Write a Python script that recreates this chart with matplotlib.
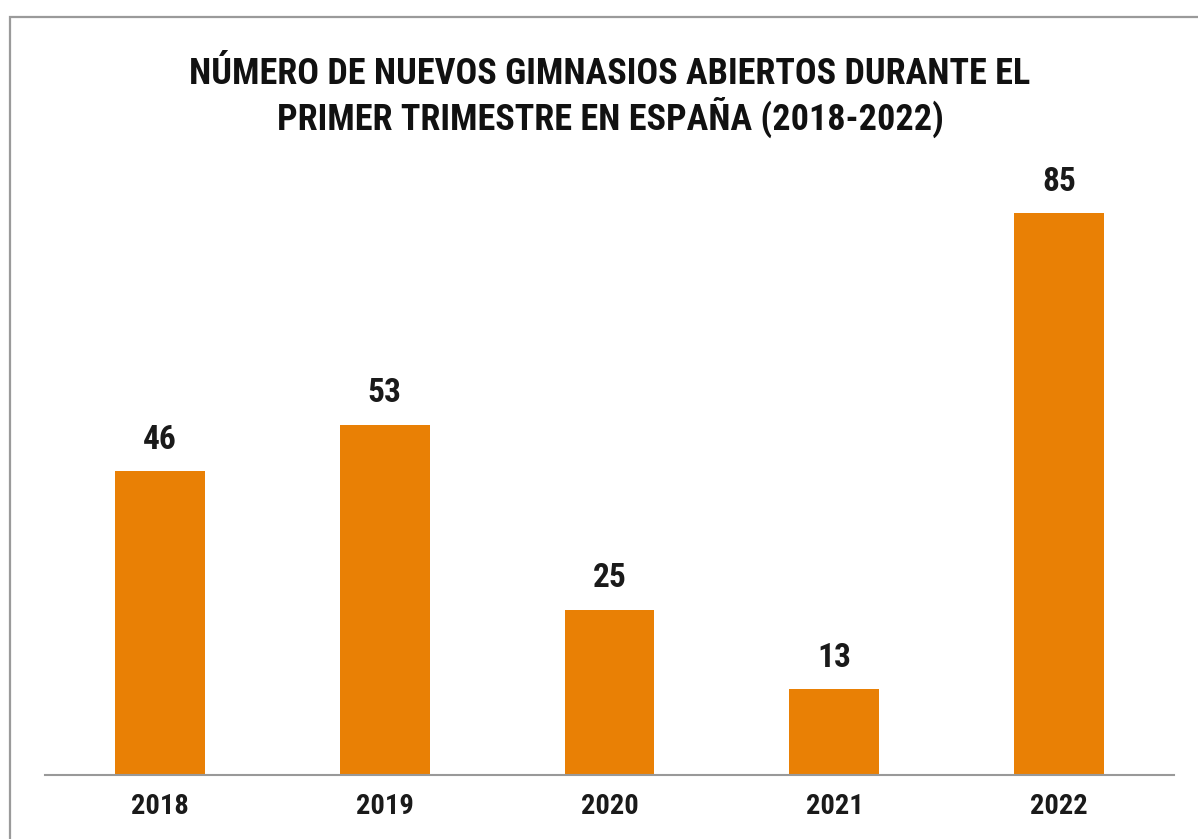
import matplotlib.pyplot as plt
from matplotlib.patches import Rectangle

years = ['2018', '2019', '2020', '2021', '2022']
gyms = [46, 53, 25, 13, 85]

title = ('NÚMERO DE NUEVOS GIMNASIOS ABIERTOS DURANTE EL\n'
         'PRIMER TRIMESTRE EN ESPAÑA (2018-2022)')

plt.rcParams['font.family'] = ['Roboto Condensed', 'Roboto', 'DejaVu Sans']

fig = plt.figure(figsize=(11.98, 8.39), dpi=100)

# outer frame (left and top edges visible, rest cut off)
fig.add_artist(Rectangle((10 / 1198, -0.1), 1.2, 1 - 17 / 839 + 0.1,
                         transform=fig.transFigure, fill=False,
                         edgecolor='#9a9a9a', linewidth=1.6))

ax = fig.add_axes([45 / 1198, 64 / 839, (1174 - 45) / 1198, 595 / 839])
x = range(len(years))
ax.bar(x, gyms, width=0.4, color='#E98005')

for xi, v in zip(x, gyms):
    ax.annotate(str(v), (xi, v), xytext=(0, 11), textcoords='offset points',
                ha='center', va='bottom', fontsize=24, fontweight='bold',
                color='#1a1a1a')

ax.set_xlim(-0.51, 4.51)
ax.set_ylim(0, 90)
ax.set_xticks(list(x))
ax.set_xticklabels(years, fontsize=20.5, fontweight='bold', color='#1a1a1a')
ax.tick_params(axis='x', length=0, pad=13)
ax.set_yticks([])
for s in ['top', 'right', 'left']:
    ax.spines[s].set_visible(False)
ax.spines['bottom'].set_color('#999999')
ax.spines['bottom'].set_linewidth(1.5)

fig.text(610 / 1198, 1 - 97 / 839, title, ha='center', va='center',
         fontsize=26, fontweight='bold', color='#111111', linespacing=1.12)

fig.savefig('out.png', dpi=100)
